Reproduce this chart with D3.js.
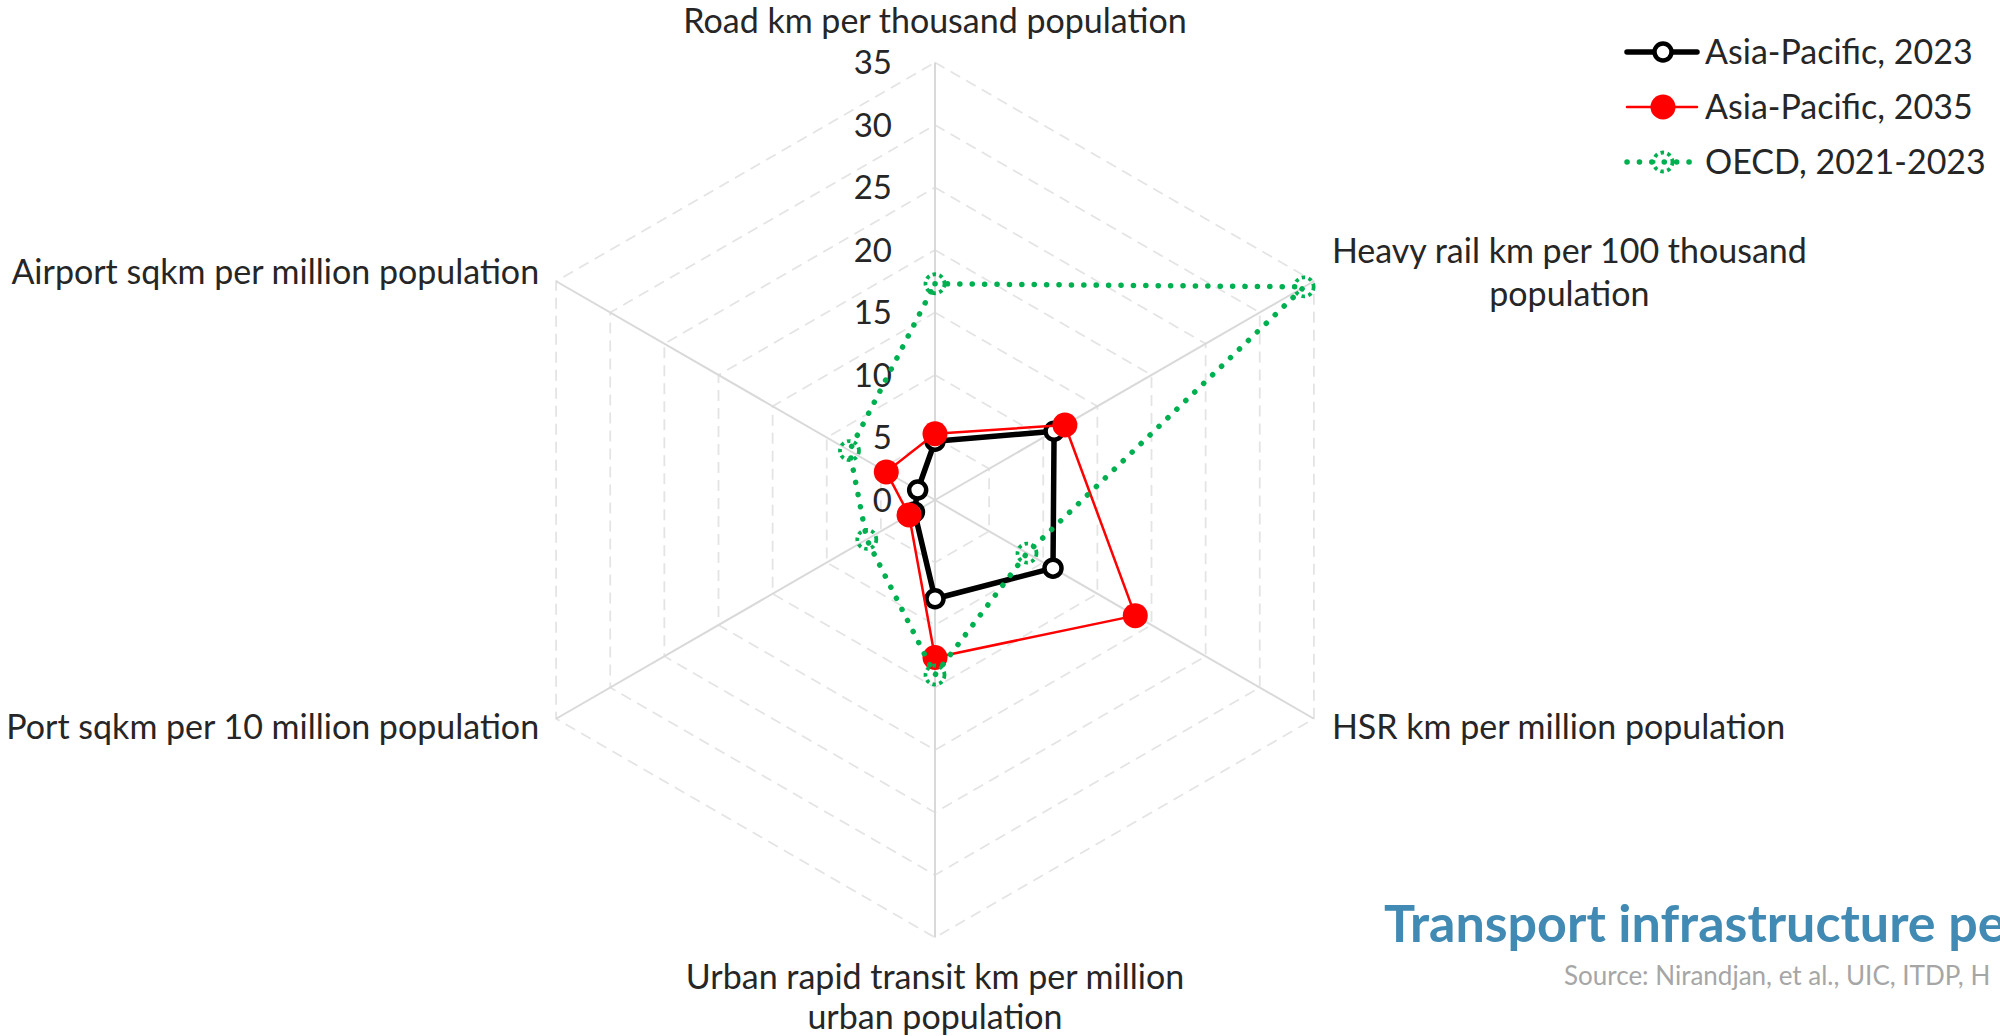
<!DOCTYPE html>
<html>
<head>
<meta charset="utf-8">
<script src="https://cdn.jsdelivr.net/npm/d3@7"></script>
<style>
  body { margin: 0; background: #fff; }
  svg { display: block; font-family: Lato, "Open Sans", sans-serif; }
</style>
</head>
<body>
<svg id="chart" width="2000" height="1036"></svg>
<script>
// axis labels, clockwise from the top (one entry per printed line)
const categories = [
  ["Road km per thousand population"],
  ["Heavy rail km per 100 thousand", "population"],
  ["HSR km per million population"],
  ["Urban rapid transit km per million", "urban population"],
  ["Port sqkm per 10 million population"],
  ["Airport sqkm per million population"]
];
const seriesNames = ["Asia-Pacific, 2023", "Asia-Pacific, 2035", "OECD, 2021-2023"];
const asiaPacific2023 = [4.7, 11.0, 10.9, 7.9, 1.9, 1.6];
const asiaPacific2035 = [5.3, 12.0, 18.5, 12.6, 2.4, 4.5];
const oecd2021to2023 = [17.3, 34.1, 8.5, 14.0, 6.3, 7.9];
const ticks = [0, 5, 10, 15, 20, 25, 30, 35];
const titleText = "Transport infrastructure per capita";
const sourceText = "Source: Nirandjan, et al., UIC, ITDP, H";

const W = 2000, H = 1036;
const cx = 935, cy = 500, R = 437.5;
const textColor = "#262626";
const fontSize = 34;

const svg = d3.select("#chart");
svg.append("rect").attr("width", W).attr("height", H).attr("fill", "#fff");

const r = d3.scaleLinear().domain([0, 35]).range([0, R]);
const angle = d3.scaleLinear().domain([0, categories.length]).range([0, 2 * Math.PI]);

const g = svg.append("g").attr("transform", `translate(${cx},${cy})`);

const radial = d3.lineRadial()
  .angle((d, i) => angle(i))
  .radius(d => r(d))
  .curve(d3.curveLinearClosed);

// dashed rings
g.selectAll(".ring")
  .data(ticks.filter(t => t > 0))
  .enter()
  .append("path")
  .attr("class", "ring")
  .attr("d", t => radial(categories.map(() => t)))
  .attr("fill", "none")
  .attr("stroke", "#e4e4e4")
  .attr("stroke-width", 1.8)
  .attr("stroke-dasharray", "11 7");

// spokes
g.selectAll(".spoke")
  .data(categories)
  .enter()
  .append("line")
  .attr("class", "spoke")
  .attr("x1", 0)
  .attr("y1", 0)
  .attr("x2", (d, i) => d3.pointRadial(angle(i), r(35))[0])
  .attr("y2", (d, i) => d3.pointRadial(angle(i), r(35))[1])
  .attr("stroke", "#d9d9d9")
  .attr("stroke-width", 2);

// tick labels
g.selectAll(".tick")
  .data(ticks)
  .enter()
  .append("text")
  .attr("class", "tick")
  .attr("x", -43)
  .attr("y", d => -r(d))
  .attr("dy", "0.36em")
  .attr("text-anchor", "end")
  .attr("font-size", 33)
  .attr("fill", textColor)
  .text(d => d);

// category labels
categories.forEach((lines, i) => {
  const p = d3.pointRadial(angle(i), r(35));
  const t = g.append("text")
    .attr("font-size", fontSize)
    .attr("fill", textColor)
    .attr("text-anchor", "middle");
  const spans = lines.map(l => t.append("tspan").text(l));
  const maxW = d3.max(spans, s => s.node().getComputedTextLength());
  const n = lines.length;
  let x, y0, lh = 43;
  if (Math.abs(p[0]) < 1) {
    x = p[0];
    if (p[1] < 0) {
      y0 = p[1] - 29.5 - (n - 1) * lh;
    } else {
      lh = 40;
      y0 = p[1] + 51;
    }
  } else {
    x = p[0] > 0 ? p[0] + 18 + maxW / 2 : p[0] - 17 - maxW / 2;
    const mid = p[1] < 0 ? p[1] - 8 : p[1] + 9;
    y0 = mid - (n - 1) * lh / 2 + 11;
  }
  spans.forEach((s, k) => s.attr("x", x).attr("y", y0 + k * lh));
});

// series
const series = [
  { name: seriesNames[0], values: asiaPacific2023, color: "#000", width: 5.5, dash: null, cap: "butt",
    mr: 8.5, mfill: "#fff", mstroke: "#000", mwidth: 4.5, mdash: null },
  { name: seriesNames[1], values: asiaPacific2035, color: "#ff0000", width: 2.5, dash: null, cap: "butt",
    mr: 12.5, mfill: "#ff0000", mstroke: "none", mwidth: 0, mdash: null },
  { name: seriesNames[2], values: oecd2021to2023, color: "#00b050", width: 5.5, dash: "0.1 12.3", cap: "round",
    mr: 9.5, mfill: "none", mstroke: "#00b050", mwidth: 3.8, mdash: "3.5 3.5" }
];

series.forEach(s => {
  const sg = g.append("g");
  sg.append("path")
    .attr("d", radial(s.values))
    .attr("fill", "none")
    .attr("stroke", s.color)
    .attr("stroke-width", s.width)
    .attr("stroke-linejoin", "round")
    .attr("stroke-linecap", s.cap)
    .attr("stroke-dasharray", s.dash);
  sg.selectAll("circle")
    .data(s.values)
    .enter()
    .append("circle")
    .attr("cx", (d, i) => d3.pointRadial(angle(i), r(d))[0])
    .attr("cy", (d, i) => d3.pointRadial(angle(i), r(d))[1])
    .attr("r", s.mr)
    .attr("fill", s.mfill)
    .attr("stroke", s.mstroke)
    .attr("stroke-width", s.mwidth)
    .attr("stroke-dasharray", s.mdash);
});

// legend
const legend = svg.append("g").attr("transform", "translate(1627,52)");
series.forEach((s, k) => {
  const row = legend.append("g").attr("transform", `translate(0,${k * 55})`);
  row.append("line")
    .attr("x1", 0).attr("x2", 70).attr("y1", 0).attr("y2", 0)
    .attr("stroke", s.color)
    .attr("stroke-width", s.width)
    .attr("stroke-linecap", "round")
    .attr("stroke-dasharray", s.dash);
  row.append("circle")
    .attr("cx", 36).attr("cy", 0)
    .attr("r", s.mr)
    .attr("fill", s.mfill)
    .attr("stroke", s.mstroke)
    .attr("stroke-width", s.mwidth)
    .attr("stroke-dasharray", s.mdash);
  row.append("text")
    .attr("x", 78).attr("y", 0).attr("dy", "0.36em")
    .attr("font-size", fontSize)
    .attr("fill", textColor)
    .text(s.name);
});

// title and source (both run past the right edge, as in the original)
svg.append("text")
  .attr("x", 1384).attr("y", 942)
  .attr("font-size", 52)
  .attr("font-weight", 700)
  .attr("fill", "#418ab3")
  .text(titleText);

svg.append("text")
  .attr("x", 1564).attr("y", 985)
  .attr("font-size", 26)
  .attr("fill", "#a6a6a6")
  .text(sourceText);
</script>
</body>
</html>
